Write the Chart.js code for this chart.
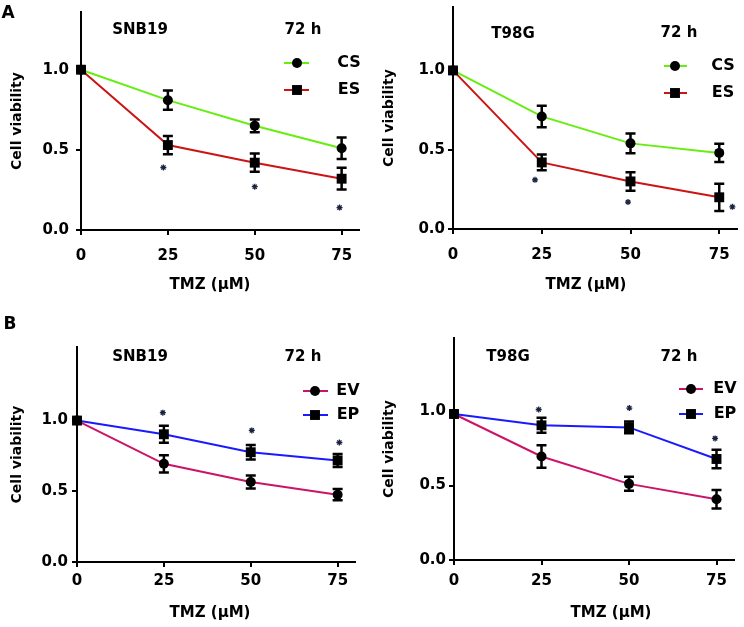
<!DOCTYPE html>
<html>
<head>
<meta charset="utf-8">
<script src="https://cdn.jsdelivr.net/npm/chart.js@4"></script>
<style>
  body { margin: 0; background: #fff; }
  #wrap { position: relative; width: 744px; height: 627px; }
  canvas { position: absolute; }
</style>
</head>
<body>
<div id="wrap">
  <canvas id="a1" width="372" height="300" style="left:0;top:0"></canvas>
  <canvas id="a2" width="372" height="300" style="left:372px;top:0"></canvas>
  <canvas id="b1" width="372" height="327" style="left:0;top:300px"></canvas>
  <canvas id="b2" width="372" height="327" style="left:372px;top:300px"></canvas>
</div>
<script>
const doses = [0, 25, 50, 75];
const yTicks = [0, 0.5, 1.0];

// A, SNB19
const a1CS = [1.0, 0.81, 0.65, 0.51];
const a1CSErr = [0, 0.06, 0.04, 0.067];
const a1ES = [1.0, 0.53, 0.42, 0.32];
const a1ESErr = [0, 0.057, 0.057, 0.068];
const a1StarX = [23.7, 50, 74.4];
const a1StarY = [0.39, 0.27, 0.14];

// A, T98G
const a2CS = [1.0, 0.71, 0.54, 0.48];
const a2CSErr = [0, 0.068, 0.063, 0.058];
const a2ES = [1.0, 0.42, 0.30, 0.20];
const a2ESErr = [0, 0.05, 0.058, 0.086];
const a2StarX = [23.1, 49.3, 78.7];
const a2StarY = [0.31, 0.17, 0.14];

// B, SNB19
const b1EV = [1.0, 0.694, 0.565, 0.476];
const b1EVErr = [0, 0.061, 0.046, 0.04];
const b1EP = [1.0, 0.903, 0.776, 0.718];
const b1EPErr = [0, 0.06, 0.052, 0.046];
const b1StarX = [24.7, 50.3, 75.5];
const b1StarY = [1.056, 0.93, 0.845];

// B, T98G
const b2EV = [0.98, 0.695, 0.511, 0.408];
const b2EVErr = [0, 0.076, 0.047, 0.062];
const b2EP = [0.98, 0.904, 0.89, 0.678];
const b2EPErr = [0, 0.05, 0.04, 0.062];
const b2StarX = [24.2, 50.1, 74.6];
const b2StarY = [1.01, 1.02, 0.816];

const FONT = '"DejaVu Sans", sans-serif';
Chart.defaults.font.family = FONT;
Chart.defaults.color = '#000';

const errorBars = {
    id: 'errorBars',
    afterDatasetsDraw(chart) {
        const {ctx, scales: {x, y}} = chart;
        ctx.save();
        ctx.strokeStyle = '#000';
        ctx.lineWidth = 2.5;
        chart.data.datasets.forEach(ds => {
            if (!ds.errors) return;
            ds.data.forEach((p, i) => {
                const e = ds.errors[i];
                if (!e) return;
                const px = x.getPixelForValue(p.x);
                const top = y.getPixelForValue(p.y + e);
                const bot = y.getPixelForValue(p.y - e);
                ctx.beginPath();
                ctx.moveTo(px, top); ctx.lineTo(px, bot);
                ctx.moveTo(px - 5, top); ctx.lineTo(px + 5, top);
                ctx.moveTo(px - 5, bot); ctx.lineTo(px + 5, bot);
                ctx.stroke();
            });
        });
        ctx.restore();
    }
};

const panelText = {
    id: 'panelText',
    afterDraw(chart, args, o) {
        const ctx = chart.ctx;
        ctx.save();
        ctx.fillStyle = '#000';
        ctx.textBaseline = 'middle';
        ctx.textAlign = 'center';
        if (o.letter) {
            ctx.font = 'bold 17px ' + FONT;
            ctx.fillText(o.letter[0], o.letter[1], o.letter[2]);
        }
        ctx.font = 'bold 15px ' + FONT;
        ctx.fillText(o.cell[0], o.cell[1], o.cell[2]);
        ctx.fillText('72 h', o.time[0], o.time[1]);
        ctx.fillText('TMZ (\u00b5M)', o.xTitle[0], o.xTitle[1]);
        // legend
        const lg = o.legend;
        let row = 0;
        chart.data.datasets.forEach(ds => {
            if (ds.isStars) return;
            const ly = lg.rows[row++];
            ctx.strokeStyle = ds.borderColor;
            ctx.lineWidth = 2;
            ctx.beginPath();
            ctx.moveTo(lg.line[0], ly); ctx.lineTo(lg.line[1], ly);
            ctx.stroke();
            ctx.fillStyle = '#000';
            Chart.helpers.drawPoint(ctx, {pointStyle: ds.pointStyle, radius: ds.pointRadius, rotation: 0, borderWidth: 0}, lg.mark, ly);
            ctx.font = 'bold 16px ' + FONT;
            ctx.fillText(ds.label, lg.text, ly);
        });
        ctx.restore();
    }
};

function series(label, vals, errs, color, style, order) {
    return {
        label: label,
        data: doses.map((d, i) => ({x: d, y: vals[i]})),
        errors: errs,
        borderColor: color,
        borderWidth: 2,
        pointStyle: style,
        pointRadius: style === 'rect' ? 7 : 5,
        pointBackgroundColor: '#000',
        pointBorderColor: '#000',
        pointBorderWidth: 0,
        tension: 0,
        clip: false,
        order: order
    };
}

function stars(xs, ys) {
    return {
        label: '',
        isStars: true,
        data: xs.map((x, i) => ({x: x, y: ys[i]})),
        showLine: false,
        pointStyle: 'star',
        pointRadius: 3,
        pointBorderColor: '#1c2340',
        pointBorderWidth: 1.3,
        clip: false,
        order: 2
    };
}

function makePanel(id, p) {
    const cv = document.getElementById(id);
    const W = cv.width, H = cv.height;
    new Chart(cv, {
        type: 'line',
        data: {datasets: p.datasets},
        options: {
            responsive: false,
            animation: false,
            events: [],
            layout: {padding: {left: 0, top: p.top, right: W - p.right, bottom: 0}},
            plugins: {
                legend: {display: false},
                tooltip: {enabled: false},
                panelText: p.text
            },
            scales: {
                x: {
                    type: 'linear',
                    min: 0,
                    max: 80,
                    afterBuildTicks: s => { s.ticks = doses.map(v => ({value: v})); },
                    afterFit: s => { s.height = H - p.bottom; s.paddingLeft = 0; s.paddingRight = 0; },
                    border: {color: '#000', width: 2},
                    grid: {drawOnChartArea: false, color: '#000', lineWidth: 2, tickLength: 5},
                    ticks: {color: '#000', font: {size: 15, weight: 'bold'}, padding: p.xPad, maxRotation: 0, callback: v => v}
                },
                y: {
                    min: 0,
                    max: p.ymax,
                    afterBuildTicks: s => { s.ticks = yTicks.map(v => ({value: v})); },
                    afterFit: s => { s.width = p.left; s.paddingTop = 0; s.paddingBottom = 0; },
                    border: {color: '#000', width: 2},
                    grid: {drawOnChartArea: false, color: '#000', lineWidth: 2, tickLength: 5},
                    ticks: {color: '#000', font: {size: 15, weight: 'bold'}, padding: p.yPad, callback: v => v.toFixed(1)},
                    title: {display: true, text: 'Cell viability', color: '#000', font: {size: 14, weight: 'bold'}, padding: {top: 9, bottom: 0}}
                }
            }
        },
        plugins: [errorBars, panelText]
    });
}

const GREEN = '#66ee11', RED = '#cc1414', PINK = '#cc1466', BLUE = '#1a1aff';

makePanel('a1', {
    left: 81, right: 359, top: 12, bottom: 230, ymax: 1.36, xPad: 12, yPad: 7,
    datasets: [series('CS', a1CS, a1CSErr, GREEN, 'circle', 1), series('ES', a1ES, a1ESErr, RED, 'rect', 0), stars(a1StarX, a1StarY)],
    text: {letter: ['A', 8, 14], cell: ['SNB19', 140, 30], time: [303, 30], xTitle: [210, 285],
           legend: {rows: [63, 90], line: [284, 309], mark: 297, text: 349}}
});

makePanel('a2', {
    left: 81, right: 365, top: 5, bottom: 229, ymax: 1.40, xPad: 12, yPad: 3,
    datasets: [series('CS', a2CS, a2CSErr, GREEN, 'circle', 1), series('ES', a2ES, a2ESErr, RED, 'rect', 0), stars(a2StarX, a2StarY)],
    text: {cell: ['T98G', 141, 34], time: [307, 33], xTitle: [214, 285],
           legend: {rows: [66, 93], line: [292, 315], mark: 303, text: 351}}
});

makePanel('b1', {
    left: 77, right: 355, top: 47, bottom: 262, ymax: 1.52, xPad: 5, yPad: 4,
    datasets: [series('EV', b1EV, b1EVErr, PINK, 'circle', 1), series('EP', b1EP, b1EPErr, BLUE, 'rect', 0), stars(b1StarX, b1StarY)],
    text: {letter: ['B', 10, 25], cell: ['SNB19', 140, 57], time: [303, 57], xTitle: [210, 313],
           legend: {rows: [91, 115], line: [303, 328], mark: 315, text: 348}}
});

makePanel('b2', {
    left: 82, right: 362, top: 38, bottom: 260, ymax: 1.49, xPad: 7, yPad: 3,
    datasets: [series('EV', b2EV, b2EVErr, PINK, 'circle', 1), series('EP', b2EP, b2EPErr, BLUE, 'rect', 0), stars(b2StarX, b2StarY)],
    text: {cell: ['T98G', 136, 57], time: [307, 57], xTitle: [239, 313],
           legend: {rows: [89, 114], line: [307, 331], mark: 319, text: 353}}
});
</script>
</body>
</html>
